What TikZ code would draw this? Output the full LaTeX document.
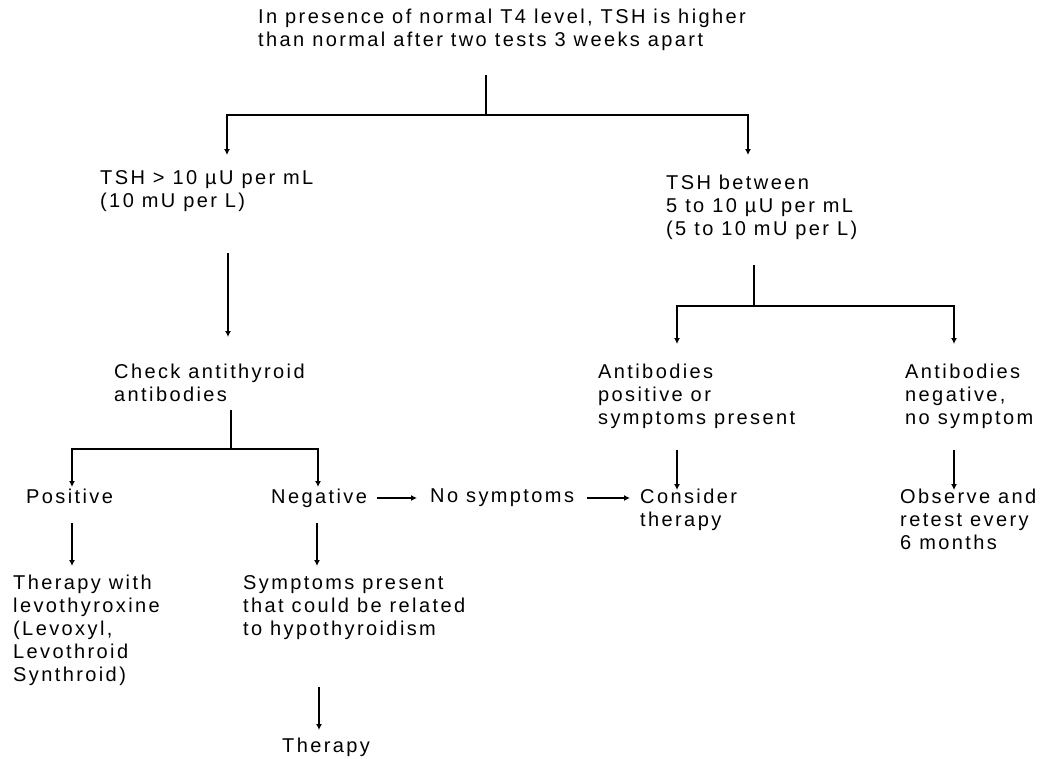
\documentclass[tikz,border=0pt]{standalone}
\usepackage{fontspec}
\setmainfont{Liberation Sans}[LetterSpace=12]
\usetikzlibrary{arrows.meta}
\begin{document}
\begin{tikzpicture}[x=1pt,y=-1pt,
  lbl/.style={anchor=north west,inner sep=0pt,align=left,font=\fontsize{20}{23}\selectfont},
  ln/.style={line width=1.2pt},
  arr/.style={ln,-{Latex[length=6pt,width=6pt]}}]
\useasboundingbox (0,0) rectangle (1041,758);
% nodes
\node[lbl] (root) at (258,9) {In presence of normal T4 level, TSH is higher\\than normal after two tests 3 weeks apart};
\node[lbl] (tsh10) at (100,170) {TSH > 10 µU per mL\\(10 mU per L)};
\node[lbl] (tshmid) at (666,175) {TSH between\\5 to 10 µU per mL\\(5 to 10 mU per L)};
\node[lbl] (check) at (114,364) {Check antithyroid\\antibodies};
\node[lbl] (abpos) at (598,364) {Antibodies\\positive or\\symptoms present};
\node[lbl] (abneg) at (905,364) {Antibodies\\negative,\\no symptom};
\node[lbl] (pos) at (26,489) {Positive};
\node[lbl] (neg) at (271,489) {Negative};
\node[lbl] (nosym) at (430,489) {No symptoms};
\node[lbl] (consider) at (640,489) {Consider\\therapy};
\node[lbl] (observe) at (900,489) {Observe and\\retest every\\6 months};
\node[lbl] (levo) at (13,575) {Therapy with\\levothyroxine\\(Levoxyl,\\Levothroid\\Synthroid)};
\node[lbl] (sympres) at (243,575) {Symptoms present\\that could be related\\to hypothyroidism};
\node[lbl] (therapy) at (282,738) {Therapy};
% coordinates
\coordinate (r0) at (486,75);
\coordinate (rj) at (486,115);
\coordinate (rL) at (227,155);
\coordinate (rR) at (748,155);
\coordinate (a0) at (228,253);
\coordinate (a1) at (228,337);
\coordinate (c0) at (231,410);
\coordinate (cj) at (231,449);
\coordinate (cL) at (72,487);
\coordinate (cR) at (318,487);
\coordinate (p0) at (72,523);
\coordinate (p1) at (72,566);
\coordinate (n0) at (317,523);
\coordinate (n1) at (317,566);
\coordinate (s0) at (319,687);
\coordinate (s1) at (319,730);
\coordinate (m0) at (754,265);
\coordinate (mj) at (754,306);
\coordinate (mL) at (677,344);
\coordinate (mR) at (954,344);
\coordinate (ap0) at (677,450);
\coordinate (ap1) at (677,490);
\coordinate (an0) at (954,450);
\coordinate (an1) at (954,490);
\coordinate (h0) at (377,498);
\coordinate (h1) at (417,498);
\coordinate (h2) at (587,498);
\coordinate (h3) at (630,498);
% connectors
\draw[ln] (r0) -- (rj);
\draw[arr] (rj) -| (rL);
\draw[arr] (rj) -| (rR);
\draw[arr] (a0) -- (a1);
\draw[ln] (c0) -- (cj);
\draw[arr] (cj) -| (cL);
\draw[arr] (cj) -| (cR);
\draw[arr] (p0) -- (p1);
\draw[arr] (n0) -- (n1);
\draw[arr] (s0) -- (s1);
\draw[ln] (m0) -- (mj);
\draw[arr] (mj) -| (mL);
\draw[arr] (mj) -| (mR);
\draw[arr] (ap0) -- (ap1);
\draw[arr] (an0) -- (an1);
\draw[arr] (h0) -- (h1);
\draw[arr] (h2) -- (h3);
\end{tikzpicture}
\end{document}
